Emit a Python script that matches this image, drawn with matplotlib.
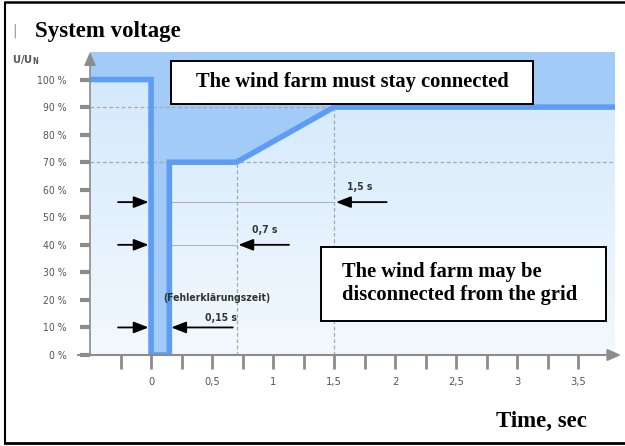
import matplotlib
matplotlib.use("Agg")
import matplotlib.pyplot as plt
import numpy as np
from matplotlib.colors import LinearSegmentedColormap
from matplotlib.patches import Rectangle, Polygon
from matplotlib.lines import Line2D

# fault ride-through curve (time in s, voltage in % of U_N)
curve_t = [-0.5, 0.0, 0.0, 0.15, 0.15, 0.7, 1.5, 3.8]
curve_u = [100, 100, 0, 0, 70, 70, 90, 90]

# marked clearing times and the level of their arrows
clear_times = [0.15, 0.7, 1.5]
clear_levels = [10, 40, 55.5]
clear_labels = ['0,15 s', '0,7 s', '1,5 s']

y_ticks = [0, 10, 20, 30, 40, 50, 60, 70, 80, 90, 100]
x_major = [0, 0.5, 1, 1.5, 2, 2.5, 3, 3.5]
x_major_labels = ['0', '0,5', '1', '1,5', '2', '2,5', '3', '3,5']
x_minor = [-0.25, 0.25, 0.75, 1.25, 1.75, 2.25, 2.75, 3.25]

narrow = ['Liberation Sans Narrow', 'DejaVu Sans']
serif = ['Liberation Serif', 'DejaVu Serif']

upper_col = '#a2cbf8'
line_col = '#5e9df3'
grid_col = '#a8a8a8'
axis_col = '#8c8c8c'

W, H = 625, 446
fig = plt.figure(figsize=(W / 100, H / 100), dpi=100)
fig.patch.set_facecolor('white')

# axes: t=-0.5 at px 90, right edge px 615; 0 % at px 355, top px 52
ax = fig.add_axes([90 / W, 1 - 355 / H, 525 / W, 303 / H])
xmin, xmax, ymin, ymax = -0.5, 3.8, 0, 110
ax.set_xlim(xmin, xmax)
ax.set_ylim(ymin, ymax)
for s in ax.spines.values():
    s.set_visible(False)

# light gradient background (area below the curve)
cmap = LinearSegmentedColormap.from_list('bg', ['#f3f9fe', '#d0e8fc'])
grad = np.linspace(0, 1, 256).reshape(-1, 1)
ax.imshow(grad, extent=(xmin, xmax, ymin, ymax), origin='lower',
          aspect='auto', cmap=cmap, zorder=0)

# darker region above the curve
poly = list(zip(curve_t, curve_u)) + [(xmax, ymax), (xmin, ymax)]
ax.add_patch(Polygon(poly, closed=True, facecolor=upper_col,
                     edgecolor='none', zorder=1))

# dashed reference lines
ax.hlines([90, 70], xmin, xmax, colors=grid_col, linestyles=(0, (3, 2)),
          lw=0.9, zorder=2)
ax.vlines(0.7, 0, 70, colors=grid_col, linestyles=(0, (3, 2)), lw=0.9, zorder=2)
ax.vlines(1.5, 0, 90, colors=grid_col, linestyles=(0, (3, 2)), lw=0.9, zorder=2)

# thin helper lines for the time arrows
ax.hlines(clear_levels[1], 0.15, clear_times[1], colors='#b4b4b4', lw=0.8, zorder=2)
ax.hlines(clear_levels[2], 0.15, clear_times[2], colors='#b4b4b4', lw=0.8, zorder=2)

# the curve
ax.plot(curve_t, curve_u, color=line_col, lw=4, solid_joinstyle='miter',
        solid_capstyle='butt', zorder=3)

# arrows
arr = dict(arrowstyle='-|>,head_length=0.9,head_width=0.35', color='black',
           lw=1.3, shrinkA=0, shrinkB=0)
for tc, lev in zip(clear_times, clear_levels):
    ax.annotate('', xy=(-0.02, lev), xytext=(-0.27, lev), arrowprops=arr, zorder=5)
    tail = tc + 0.43 if tc > 0.5 else 0.67
    ax.annotate('', xy=(tc + 0.015, lev), xytext=(tail, lev),
                arrowprops=arr, zorder=5)

small = dict(ha='center', va='center', fontsize=7.5, family=narrow,
             fontstretch='condensed', color='#333333', fontweight='bold', zorder=5)
ax.text(1.71, 61, clear_labels[2], **small)
ax.text(0.93, 45.5, clear_labels[1], **small)
ax.text(0.57, 13.5, clear_labels[0], **small)
ax.text(0.54, 20.8, '(Fehlerklärungszeit)', **small)

# axis lines with arrow heads
ax.annotate('', xy=(3.85, 0), xytext=(-0.6, 0), annotation_clip=False,
            arrowprops=dict(arrowstyle='-|>,head_length=0.8,head_width=0.35',
                            color=axis_col, lw=1.5, shrinkA=0, shrinkB=0), zorder=4)
ax.annotate('', xy=(xmin, 110), xytext=(xmin, 0), annotation_clip=False,
            arrowprops=dict(arrowstyle='-|>,head_length=0.8,head_width=0.35',
                            color=axis_col, lw=1.2, shrinkA=0, shrinkB=0), zorder=4)

# ticks
ax.set_yticks(y_ticks)
ax.set_yticklabels([f'{v} %' for v in y_ticks])
ax.set_xticks(x_major)
ax.set_xticklabels(x_major_labels)
ax.set_xticks(x_minor, minor=True)
ax.tick_params(axis='y', length=7, width=3, color=axis_col, pad=10,
               labelsize=7.5, labelcolor='#555555')
ax.tick_params(axis='x', which='both', length=10, width=2, color=axis_col,
               pad=6, labelsize=8, labelcolor='#555555')
for lab in ax.get_xticklabels() + ax.get_yticklabels():
    lab.set_family(narrow)
    lab.set_fontstretch('condensed')

# text boxes
ax.add_patch(Rectangle((0.164, 91.3), 2.966, 15.6, facecolor='white',
                       edgecolor='black', lw=1.4, zorder=6, clip_on=False))
ax.text(1.647, 99.1, 'The wind farm must stay connected', ha='center',
        va='center', fontsize=14.8, family=serif, fontweight='bold', zorder=7)
ax.add_patch(Rectangle((1.393, 12.3), 2.337, 26.8, facecolor='white',
                       edgecolor='black', lw=1.4, zorder=6, clip_on=False))
ax.text(1.56, 26.0, 'The wind farm may be\ndisconnected from the grid',
        ha='left', va='center', fontsize=14.8, family=serif,
        fontweight='bold', linespacing=1.15, zorder=7)

# labels outside the plot
fig.text(35 / W, 1 - 31 / H, 'System voltage', ha='left', va='center',
         fontsize=16.5, family=serif, fontweight='bold')
fig.text(15 / W, 1 - 31 / H, '|', ha='center', va='center', fontsize=10,
         color='#999999')
fig.text(12 / W, 1 - 60 / H, r'U/U$_\mathregular{N}$', ha='left', va='center',
         fontsize=8, family=narrow, fontstretch='condensed', fontweight='bold',
         color='#555555')
fig.text(587 / W, 1 - 421 / H, 'Time, sec', ha='right', va='center',
         fontsize=16.5, family=serif, fontweight='bold')

# frame of the picture
fig.add_artist(Line2D([5 / W, 5 / W], [1 - 3 / H, 1 - 443 / H], color='black',
                      lw=1.5, transform=fig.transFigure))
fig.add_artist(Line2D([5 / W, 1], [1 - 2 / H, 1 - 2 / H], color='black',
                      lw=1.8, transform=fig.transFigure))
fig.add_artist(Line2D([5 / W, 1], [1 - 443 / H, 1 - 443 / H], color='black',
                      lw=2, transform=fig.transFigure))

fig.savefig('out.png', dpi=100)
